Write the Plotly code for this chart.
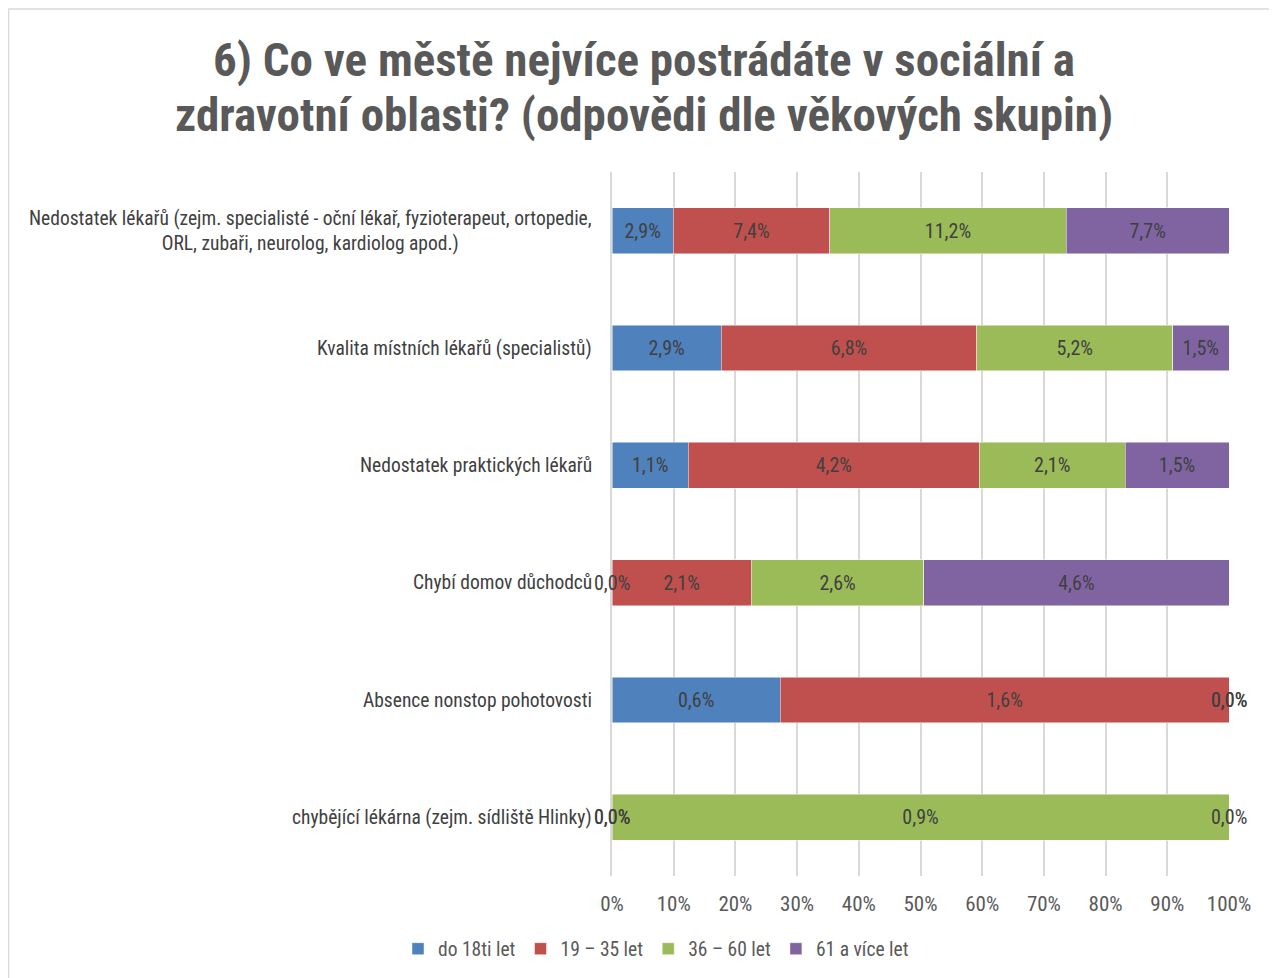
import plotly.graph_objects as go

categories = [
    "Nedostatek lékařů (zejm. specialisté - oční lékař, fyzioterapeut, ortopedie,<br>ORL, zubaři, neurolog, kardiolog apod.)",
    "Kvalita místních lékařů (specialistů)",
    "Nedostatek praktických lékařů",
    "Chybí domov důchodců",
    "Absence nonstop pohotovosti",
    "chybějící lékárna (zejm. sídliště Hlinky)",
]
series_names = ["do 18ti let", "19 – 35 let", "36 – 60 let", "61 a více let"]
do18 = [2.9, 2.9, 1.1, 0.0, 0.6, 0.0]
age19_35 = [7.4, 6.8, 4.2, 2.1, 1.6, 0.0]
age36_60 = [11.2, 5.2, 2.1, 2.6, 0.0, 0.9]
age61 = [7.7, 1.5, 1.5, 4.6, 0.0, 0.0]
colors = ["#4F81BD", "#C0504D", "#9BBB59", "#8064A2"]
x_ticks = [0, 10, 20, 30, 40, 50, 60, 70, 80, 90, 100]
title_lines = ["6) Co ve městě nejvíce postrádáte v sociální a",
               "zdravotní oblasti? (odpovědi dle věkových skupin)"]

series = [do18, age19_35, age36_60, age61]
FONT = "Liberation Sans Narrow, Arial Narrow, Roboto Condensed, sans-serif"

W, H = 1269, 970
L, R, T, B = 604, 48, 164, 102
PW, PH = W - L - R, H - T - B


def fmt(v):
    return f"{v:.1f}".replace(".", ",") + "%"


def px_x(x):
    return (x - L) / PW


def px_y(y):
    return 1 - (y - T) / PH


fig = go.Figure()
for name, vals, col in zip(series_names, series, colors):
    fig.add_trace(go.Bar(
        y=categories, x=vals, name=name, orientation="h",
        marker=dict(color=col, line=dict(color="rgba(255,255,255,0.6)", width=0.8)),
        text=[fmt(v) if v > 0 else "" for v in vals],
        textposition="inside", insidetextanchor="middle",
        textfont=dict(family=FONT, size=20, color="#404040"),
        hoverinfo="skip",
    ))

annotations = []
totals = [sum(s[j] for s in series) for j in range(len(categories))]
for i, vals in enumerate(series):
    for j, v in enumerate(vals):
        if v == 0:
            start = sum(series[k][j] for k in range(i)) / totals[j] * 100
            annotations.append(dict(
                x=start, y=categories[j], xref="x", yref="y", text=fmt(v),
                showarrow=False, xanchor="center",
                font=dict(family=FONT, size=20, color="#404040"),
            ))
for c in categories:
    annotations.append(dict(
        x=0, y=c, xref="paper", yref="y", text=c, showarrow=False,
        xanchor="right", align="center", xshift=-18,
        font=dict(family=FONT, size=19.5, color="#404040"),
    ))
for line, yc in zip(title_lines, [52, 107]):
    annotations.append(dict(
        x=px_x(636), y=px_y(yc), xref="paper", yref="paper", text=line,
        showarrow=False, xanchor="center", yanchor="middle",
        font=dict(family=FONT, size=47, color="#595959", weight="bold"),
    ))

fig.update_layout(
    width=W, height=H,
    barmode="stack", barnorm="percent", bargap=0.61,
    paper_bgcolor="white", plot_bgcolor="white",
    margin=dict(l=L, r=R, t=T, b=B, autoexpand=False),
    xaxis=dict(
        range=[0, 100], tickvals=x_ticks, ticktext=[f"{t}%" for t in x_ticks],
        showgrid=True, gridcolor="#D9D9D9", gridwidth=1.5, zeroline=False,
        showline=False, ticks="", ticklabelstandoff=13,
        tickfont=dict(family=FONT, size=21, color="#595959"),
        fixedrange=True,
    ),
    yaxis=dict(
        autorange="reversed", showticklabels=False, showgrid=False,
        showline=True, linecolor="#D9D9D9", linewidth=1.5, ticks="",
        fixedrange=True,
    ),
    legend=dict(
        orientation="h", x=px_x(648), xanchor="center", y=px_y(941), yanchor="middle",
        font=dict(family=FONT, size=19.5, color="#595959"),
        itemwidth=30, traceorder="normal",
    ),
    annotations=annotations,
    showlegend=True,
    shapes=[dict(
        type="rect", xref="paper", yref="paper",
        x0=px_x(0.5), x1=px_x(1300), y0=px_y(1000), y1=px_y(1),
        line=dict(color="#D9D9D9", width=1.5), fillcolor="rgba(0,0,0,0)", layer="below",
    )],
    uniformtext=dict(minsize=20, mode="show"),
)

fig.write_html("out.html")
